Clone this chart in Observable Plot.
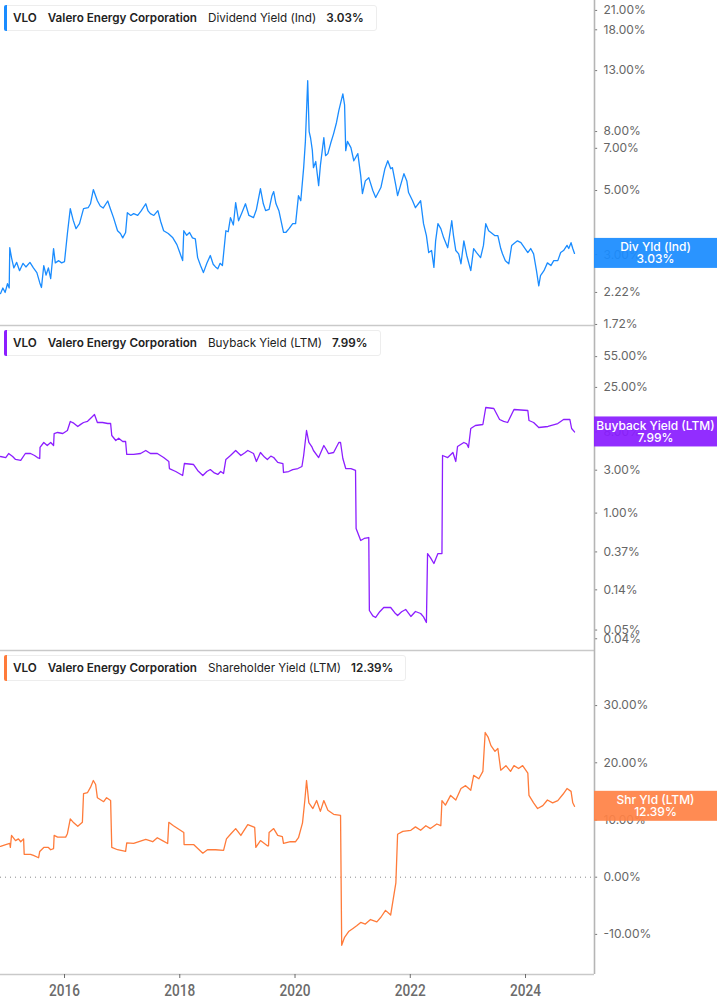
<!DOCTYPE html>
<html><head><meta charset="utf-8">
<script src="https://cdn.jsdelivr.net/npm/d3@7"></script>
<script src="https://cdn.jsdelivr.net/npm/@observablehq/plot@0.6"></script>
<style>
body{margin:0;background:#fff;font-family:Inter,"Noto Sans",sans-serif;}
#wrap{position:relative;width:717px;height:1005px;overflow:hidden;background:#fff;}
.panel{position:absolute;left:0;}
.legend{position:absolute;left:4px;height:26px;background:#fff;border:1px solid #ededed;border-radius:3px;display:flex;align-items:center;font-size:11.7px;color:#222;white-space:nowrap;padding-right:12px;box-sizing:border-box;font-family:Inter,sans-serif;}
.legend .bar{width:3px;align-self:stretch;margin:-1px 6px -1px -1px;border-radius:2px 0 0 2px;}
.legend .tk{font-weight:600;margin-right:11px;}
.legend .co{font-weight:600;margin-right:11px;}
.legend .me{font-weight:400;margin-right:10px;}
.legend .va{font-weight:600;}
</style></head>
<body><div id="wrap"></div>
<script>
// ---------- data ----------
const ticker = "VLO";
const company = "Valero Energy Corporation";
const metrics = ["Dividend Yield (Ind)", "Buyback Yield (LTM)", "Shareholder Yield (LTM)"];
const shortNames = ["Div Yld (Ind)", "Buyback Yield (LTM)", "Shr Yld (LTM)"];
const yearTicks = [2016, 2018, 2020, 2022, 2024];
const divTicks = [1.72, 2.22, 3, 5, 7, 8, 13, 18, 21];
const bbTicks = [0.04, 0.05, 0.14, 0.37, 1, 3, 8, 25, 55];
const shTicks = [-10, 0, 10, 20, 30];

const divYears = [2014.89,2014.93,2014.97,2015.01,2015.04,2015.05,2015.08,2015.12,2015.17,2015.22,2015.28,2015.33,2015.40,2015.46,2015.52,2015.57,2015.60,2015.64,2015.68,2015.72,2015.76,2015.81,2015.84,2015.90,2015.95,2016.00,2016.05,2016.10,2016.15,2016.20,2016.26,2016.33,2016.41,2016.45,2016.50,2016.57,2016.62,2016.67,2016.75,2016.80,2016.85,2016.92,2016.97,2017.01,2017.06,2017.09,2017.15,2017.20,2017.27,2017.33,2017.41,2017.45,2017.49,2017.55,2017.62,2017.67,2017.72,2017.80,2017.88,2017.95,2018.00,2018.05,2018.07,2018.12,2018.17,2018.22,2018.27,2018.31,2018.36,2018.41,2018.47,2018.53,2018.58,2018.62,2018.66,2018.70,2018.74,2018.80,2018.84,2018.88,2018.93,2018.97,2019.02,2019.08,2019.14,2019.20,2019.28,2019.33,2019.40,2019.45,2019.49,2019.55,2019.60,2019.63,2019.67,2019.72,2019.80,2019.84,2019.90,2019.96,2020.01,2020.06,2020.10,2020.15,2020.18,2020.22,2020.245,2020.27,2020.30,2020.32,2020.36,2020.41,2020.44,2020.50,2020.53,2020.57,2020.62,2020.67,2020.72,2020.76,2020.83,2020.86,2020.88,2020.91,2020.97,2021.02,2021.09,2021.14,2021.17,2021.22,2021.28,2021.35,2021.40,2021.49,2021.56,2021.61,2021.66,2021.69,2021.75,2021.78,2021.83,2021.89,2021.94,2021.97,2022.04,2022.09,2022.18,2022.23,2022.28,2022.32,2022.37,2022.41,2022.44,2022.48,2022.53,2022.58,2022.65,2022.72,2022.75,2022.79,2022.84,2022.88,2022.93,2022.98,2023.05,2023.10,2023.15,2023.22,2023.27,2023.31,2023.36,2023.40,2023.47,2023.52,2023.57,2023.60,2023.65,2023.71,2023.76,2023.80,2023.86,2023.92,2023.98,2024.04,2024.09,2024.14,2024.19,2024.23,2024.26,2024.32,2024.38,2024.44,2024.49,2024.56,2024.61,2024.66,2024.72,2024.75,2024.79,2024.82,2024.85];
const divValues = [2.20,2.30,2.22,2.38,2.30,3.17,2.93,2.70,2.82,2.64,2.80,2.72,2.82,2.70,2.60,2.40,2.31,2.75,2.55,2.70,2.48,3.15,2.81,2.86,2.81,2.84,3.55,4.33,3.95,3.69,3.84,4.33,4.36,4.50,5.04,4.61,4.42,4.35,4.60,4.30,4.03,3.63,3.55,3.43,3.58,4.19,4.10,4.16,4.10,4.25,4.50,4.25,4.16,4.10,4.26,3.90,3.63,3.55,3.43,3.25,3.05,2.86,3.63,3.50,3.58,3.43,3.40,2.93,2.75,2.60,2.80,2.98,2.78,2.72,2.68,2.80,2.75,3.63,3.60,4.03,3.80,4.54,3.93,4.20,4.50,4.10,4.03,4.30,5.08,4.50,4.26,4.30,4.80,4.96,4.50,4.26,3.58,3.58,3.70,3.84,3.84,4.80,4.61,6.00,7.40,12.0,8.00,7.60,6.90,6.00,6.30,5.20,6.10,7.62,6.60,6.71,7.30,7.87,8.60,9.45,10.8,9.90,6.87,7.40,7.04,6.34,6.71,5.63,4.88,5.40,5.54,5.00,4.73,5.12,5.95,6.34,5.95,6.00,5.20,4.80,5.20,5.72,5.40,4.92,4.61,4.36,4.61,3.84,3.49,3.05,3.10,2.71,3.35,3.84,3.69,3.43,3.17,3.93,3.49,3.10,3.02,2.79,3.35,2.98,2.64,3.15,3.05,2.93,3.23,3.84,3.63,3.58,3.49,3.49,3.15,3.02,2.86,2.79,3.23,3.28,3.35,3.30,3.17,3.05,3.15,3.02,2.64,2.34,2.54,2.64,2.81,2.75,2.86,2.86,3.05,3.10,3.23,3.15,3.30,3.15,3.03];

const bbYears = [2014.89,2014.98,2015.03,2015.10,2015.15,2015.24,2015.32,2015.41,2015.48,2015.53,2015.57,2015.575,2015.64,2015.70,2015.76,2015.81,2015.82,2015.88,2015.97,2016.05,2016.10,2016.16,2016.23,2016.28,2016.33,2016.40,2016.45,2016.52,2016.57,2016.66,2016.75,2016.80,2016.82,2016.89,2016.94,2017.01,2017.06,2017.08,2017.20,2017.32,2017.41,2017.49,2017.61,2017.72,2017.81,2017.82,2017.93,2018.05,2018.08,2018.24,2018.31,2018.40,2018.47,2018.53,2018.60,2018.66,2018.71,2018.76,2018.80,2018.88,2018.97,2019.06,2019.13,2019.18,2019.28,2019.33,2019.40,2019.47,2019.52,2019.58,2019.63,2019.70,2019.79,2019.80,2019.89,2019.96,2020.05,2020.12,2020.15,2020.20,2020.24,2020.29,2020.32,2020.41,2020.50,2020.55,2020.58,2020.67,2020.76,2020.79,2020.83,2020.88,2020.97,2021.05,2021.06,2021.14,2021.20,2021.28,2021.29,2021.35,2021.40,2021.47,2021.54,2021.66,2021.73,2021.78,2021.85,2021.92,2022.01,2022.09,2022.18,2022.23,2022.28,2022.30,2022.35,2022.41,2022.48,2022.55,2022.56,2022.65,2022.74,2022.79,2022.82,2022.93,2022.98,2023.01,2023.05,2023.13,2023.26,2023.31,2023.45,2023.55,2023.62,2023.69,2023.80,2024.04,2024.06,2024.14,2024.23,2024.39,2024.56,2024.66,2024.77,2024.80,2024.85];
const bbValues = [4.26,4.15,4.60,4.26,3.95,3.85,4.60,4.60,4.37,4.15,4.05,5.37,6.10,5.65,6.10,5.65,7.68,7.88,7.68,8.29,10.45,10.0,9.19,9.7,10.18,10.5,11.28,12.50,10.18,10.18,9.92,9.92,7.30,6.42,6.8,6.26,6.26,4.49,4.49,4.6,4.97,4.6,4.60,4.15,3.75,3.13,2.9,2.62,3.56,3.47,2.98,2.62,2.9,3.05,2.8,2.69,2.9,2.76,3.95,4.37,4.97,4.37,4.7,4.97,4.60,3.75,4.72,4.2,3.95,4.3,4.15,3.66,3.56,2.83,2.9,3.05,3.13,3.3,4.37,8.29,6.10,5.5,4.97,4.15,5.65,5.0,4.60,4.72,6.10,6.10,4.05,3.13,3.13,2.98,0.674,0.496,0.522,0.535,0.0825,0.072,0.069,0.080,0.0891,0.0891,0.078,0.0726,0.080,0.0847,0.0708,0.0804,0.0764,0.070,0.0607,0.355,0.32,0.275,0.355,0.355,4.37,4.15,4.72,3.75,5.51,6.10,5.9,5.37,8.73,9.43,9.67,14.95,14.57,10.99,10.5,10.18,14.20,13.85,10.72,10.18,8.96,9.19,9.92,10.99,10.99,8.73,7.99];

const shYears = [2014.89,2014.98,2015.05,2015.06,2015.08,2015.15,2015.20,2015.24,2015.29,2015.30,2015.41,2015.46,2015.55,2015.57,2015.64,2015.72,2015.76,2015.81,2015.82,2015.88,2016.02,2016.05,2016.10,2016.16,2016.23,2016.31,2016.33,2016.40,2016.45,2016.50,2016.54,2016.57,2016.68,2016.73,2016.80,2016.82,2016.92,2017.06,2017.08,2017.20,2017.41,2017.53,2017.61,2017.70,2017.79,2017.81,2017.89,2018.07,2018.075,2018.24,2018.40,2018.48,2018.62,2018.76,2018.81,2018.88,2018.97,2019.06,2019.18,2019.30,2019.32,2019.40,2019.52,2019.54,2019.55,2019.63,2019.70,2019.78,2019.80,2019.92,2020.01,2020.06,2020.13,2020.17,2020.20,2020.24,2020.31,2020.375,2020.44,2020.50,2020.57,2020.67,2020.79,2020.81,2020.86,2020.93,2021.00,2021.07,2021.14,2021.22,2021.31,2021.42,2021.49,2021.57,2021.66,2021.75,2021.78,2021.87,2022.01,2022.09,2022.18,2022.27,2022.35,2022.46,2022.53,2022.55,2022.61,2022.70,2022.79,2022.88,2022.96,2023.05,2023.10,2023.19,2023.26,2023.30,2023.35,2023.40,2023.47,2023.52,2023.57,2023.66,2023.74,2023.80,2023.88,2023.95,2024.04,2024.06,2024.14,2024.21,2024.30,2024.38,2024.47,2024.56,2024.65,2024.72,2024.79,2024.82,2024.85];
const shValues = [5.4,5.7,5.9,5.2,7.3,6.4,6.7,6.2,6.7,4.0,4.0,3.8,3.4,4.5,5.2,5.2,4.8,5.0,7.3,7.0,7.0,7.6,10.2,9.5,8.9,9.6,14.6,14.8,15.7,16.9,16.2,13.9,13.2,13.9,13.4,5.2,4.8,4.5,6.0,5.9,6.6,6.2,6.9,6.4,5.9,9.6,9.0,7.8,5.7,5.7,4.2,4.8,4.8,4.7,6.7,7.5,8.5,7.3,9.2,8.7,5.2,6.4,5.5,5.5,7.8,8.5,7.3,7.1,5.9,6.2,6.2,6.9,9.5,13.4,16.9,13.0,12.0,13.4,11.5,13.4,11.7,11.0,10.8,-11.9,-10.5,-9.5,-9.0,-8.5,-7.9,-8.2,-7.4,-7.8,-7.0,-5.8,-6.6,-1.0,7.5,8.0,8.2,8.8,8.2,9.0,8.5,9.3,9.0,13.4,12.6,14.3,13.5,15.5,16.0,15.2,17.8,17.2,18.5,25.3,24.5,23.0,22.0,22.5,18.7,19.5,18.5,19.5,19.0,19.5,18.2,14.3,13.0,12.0,12.5,13.5,13.0,13.4,14.5,15.5,15.0,13.0,12.39];

// ---------- layout ----------
const W = 717, MR = 123;
const xDomain = [2014.889, 2025.197];
const tickLen = 0.055; // tick length in years (~3px)
const fmt = d => d.toFixed(2) + "%";
const wrap = document.getElementById("wrap");

function valueBox(last, short, boxColor) {
  return (index, scales, values, dims) => {
    const y = scales.y(last);
    const x0 = dims.width - dims.marginRight;
    const g = d3.create("svg:g");
    g.append("rect").attr("x", x0).attr("y", y - 15).attr("width", dims.marginRight)
      .attr("height", 30).attr("fill", boxColor).attr("fill-opacity", 0.93);
    const cx = x0 + 61.5;
    g.append("text").attr("x", cx).attr("y", y - 1.5).attr("text-anchor", "middle")
      .attr("fill", "#fff").attr("font-size", 12).attr("font-weight", 500)
      .attr("font-family", "Inter, sans-serif").text(short);
    g.append("text").attr("x", cx).attr("y", y + 10.5).attr("text-anchor", "middle")
      .attr("fill", "#fff").attr("font-size", 12).attr("font-weight", 500)
      .attr("font-family", "Inter, sans-serif").text(fmt(last));
    return g.node();
  };
}

function panel(cfg) {
  const data = cfg.years.map((t, i) => ({t, v: cfg.values[i]}));
  const last = cfg.values[cfg.values.length - 1];
  const marks = [
    Plot.ruleY(cfg.ticks, {x1: xDomain[1], x2: xDomain[1] + tickLen, stroke: "#777", strokeWidth: 1}),
    Plot.text(cfg.ticks, {x: xDomain[1], y: d => d, dx: 9, textAnchor: "start", text: fmt,
      fill: "#666", fontSize: 12, fontFamily: "Inter, sans-serif"}),
    Plot.ruleY([cfg.domain[0]], {stroke: "#c9c9c9", strokeWidth: 1.4}),
    Plot.ruleX([xDomain[1]], {stroke: "#b5b5b5", strokeWidth: 1.6}),
  ];
  if (cfg.zero) marks.push(Plot.ruleY([0], {stroke: "#8a8a8a", strokeWidth: 1, strokeDasharray: "1,4"}));
  marks.push(Plot.line(data, {x: "t", y: "v", stroke: cfg.color, strokeWidth: 1.3}));
  if (cfg.xAxis) marks.push(Plot.axisX({ticks: yearTicks, tickFormat: d => String(d), tickSize: 4,
    tickPadding: 5, color: "#6b6b6b", fontSize: 17, fontWeight: 500, label: null,
    fontFamily: "Roboto, sans-serif"}));
  marks.push(valueBox(last, cfg.short, cfg.boxColor));
  const svg = Plot.plot({
    width: W, height: cfg.height,
    marginLeft: 0, marginRight: MR, marginTop: 0, marginBottom: cfg.height - 325 + (cfg.xAxis ? 1 : 0),
    style: {background: "transparent", overflow: "visible", fontFamily: "Inter, sans-serif"},
    x: {domain: xDomain, axis: null, label: null},
    y: {type: cfg.type, domain: cfg.domain, axis: null, label: null},
    marks
  });
  if (cfg.xAxis) {
    d3.select(svg).selectAll('[aria-label="x-axis tick label"] text')
      .attr("textLength", 31).attr("lengthAdjust", "spacingAndGlyphs");
  }
  const d = document.createElement("div");
  d.className = "panel"; d.style.top = cfg.top + "px";
  d.appendChild(svg);
  wrap.appendChild(d);

  const lg = document.createElement("div");
  lg.className = "legend"; lg.style.top = (cfg.top + 5) + "px";
  lg.innerHTML = `<span class="bar" style="background:${cfg.color}"></span><span class="tk">${ticker}</span><span class="co">${company}</span><span class="me">${cfg.metric}</span><span class="va">${fmt(last)}</span>`;
  wrap.appendChild(lg);
}

panel({years: divYears, values: divValues, color: "#1a8cff", boxColor: "#1a8cff", type: "log",
  domain: [1.706, 22.73], ticks: divTicks, short: shortNames[0], metric: metrics[0], height: 325, top: 0});
panel({years: bbYears, values: bbValues, color: "#8c1eff", boxColor: "#8a1dff", type: "log",
  domain: [0.02962, 122.1], ticks: bbTicks, short: shortNames[1], metric: metrics[1], height: 325, top: 325});
panel({years: shYears, values: shValues, color: "#ff7b3a", boxColor: "#ff8246", type: "linear",
  domain: [-17.01, 39.63], ticks: shTicks, short: shortNames[2], metric: metrics[2], height: 355, top: 650, zero: true, xAxis: true});
</script>
</body></html>
